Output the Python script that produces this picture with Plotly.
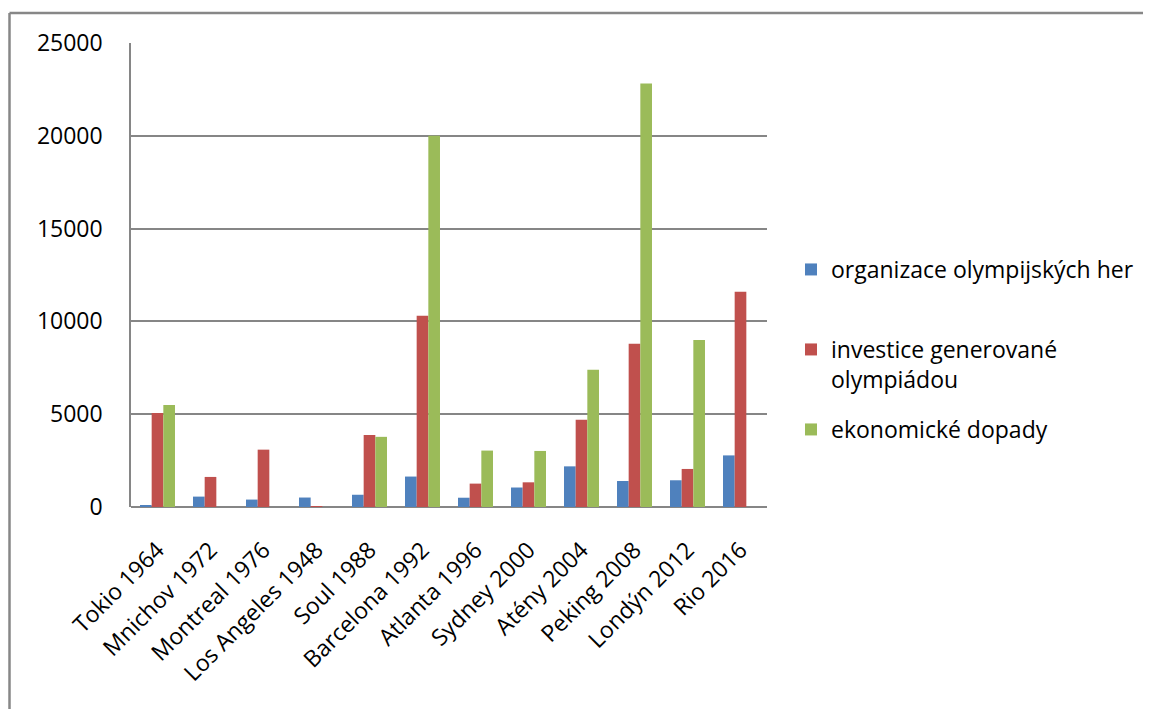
import plotly.graph_objects as go

categories = ["Tokio 1964", "Mnichov 1972", "Montreal 1976", "Los Angeles 1948", "Soul 1988",
              "Barcelona 1992", "Atlanta 1996", "Sydney 2000", "Atény 2004", "Peking 2008",
              "Londýn 2012", "Rio 2016"]
organizace = [100, 560, 400, 510, 660, 1640, 500, 1050, 2190, 1400, 1440, 2780]
investice = [5070, 1620, 3090, 20, 3880, 10300, 1260, 1330, 4700, 8800, 2050, 11600]
dopady = [5500, None, None, None, 3780, 20000, 3040, 3020, 7390, 22820, 9000, None]

series_names = ["organizace olympijských her", "investice generované<br>olympiádou", "ekonomické dopady"]
colors = ["#4F81BD", "#C0504D", "#9BBB59"]

# target pixel geometry (reference image coordinates); page body adds an 8px offset
OFF = 8
W, H = 1151 - OFF, 709 - OFF
L, R, T, B = 131, 767, 43, 507
FONT = "Open Sans"


def px2x(px):
    return (px - L) / (R - L)


def px2y(py):
    return (B - py) / (B - T)


def cx(px):
    return (px - OFF) / W


def cy(py):
    return 1 - (py - OFF) / H


legend_names = ["legend", "legend2", "legend3"]
legend_tops = [248, 328, 408]

fig = go.Figure()
for name, vals, col, lg in zip(series_names, [organizace, investice, dopady], colors, legend_names):
    fig.add_trace(go.Bar(x=categories, y=vals, name=name, marker=dict(color=col, line=dict(width=0)),
                         legend=lg))

legend_common = dict(xanchor="left", yanchor="top", valign="top", xref="container", yref="container",
                     font=dict(family=FONT, size=23, color="black"),
                     bgcolor="rgba(0,0,0,0)")

layout_legends = {}
for lg, top in zip(legend_names, legend_tops):
    layout_legends[lg] = dict(x=cx(791), y=cy(top), **legend_common)

fig.update_layout(
    width=W, height=H,
    margin=dict(l=L - OFF, r=W - (R - OFF), t=T - OFF, b=H - (B - OFF), autoexpand=False),
    paper_bgcolor="white", plot_bgcolor="white",
    font=dict(family=FONT, size=23, color="black"),
    barmode="group", bargap=0.34, bargroupgap=0,
    showlegend=True,
    xaxis=dict(tickangle=-45, showgrid=False, showline=False, ticks="",
               tickfont=dict(family=FONT, size=23, color="black"), ticklabelstandoff=24),
    yaxis=dict(range=[0, 25000], dtick=5000, tickformat="d", showgrid=True, gridcolor="#868686",
               gridwidth=1.5, showline=True, linecolor="#868686", linewidth=1.5, ticks="",
               zeroline=True, zerolinecolor="#868686", zerolinewidth=2,
               tickfont=dict(family=FONT, size=23, color="black"), ticklabelstandoff=22),
    **layout_legends,
)

# outer chart border (partly outside the view)
fig.add_shape(type="line", xref="paper", yref="paper", x0=px2x(9.5), x1=px2x(1200),
              y0=px2y(13), y1=px2y(13), line=dict(color="#878787", width=2.5))
fig.add_shape(type="line", xref="paper", yref="paper", x0=px2x(9.5), x1=px2x(9.5),
              y0=px2y(13), y1=px2y(760), line=dict(color="#878787", width=2.5))

fig.write_html("out.html")
